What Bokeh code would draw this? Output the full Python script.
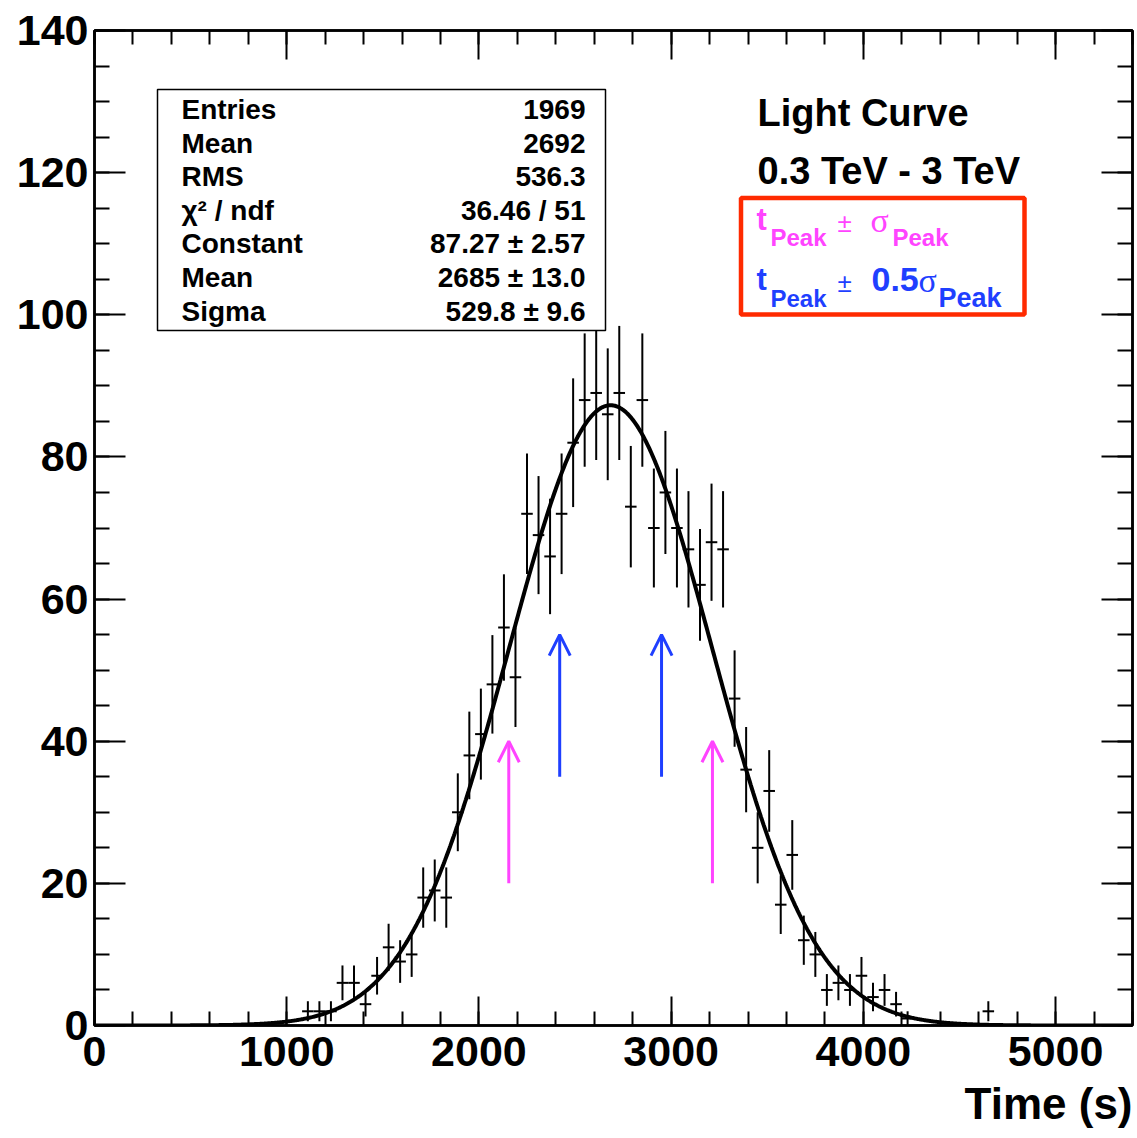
import numpy as np
from bokeh.plotting import figure
from bokeh.models import (Range1d, LinearAxis, SingleIntervalTicker, BoxAnnotation,
                          Label, Arrow, OpenHead, ColumnDataSource, Title)
from bokeh.embed import file_html
from bokeh.resources import INLINE

# ---------------- data ----------------
bin_width = 60
bin_centers = [1110, 1170, 1230, 1290, 1350, 1410, 1470, 1530, 1590, 1650,
               1710, 1770, 1830, 1890, 1950, 2010, 2070, 2130, 2190, 2250,
               2310, 2370, 2430, 2490, 2550, 2610, 2670, 2730, 2790, 2850,
               2910, 2970, 3030, 3090, 3150, 3210, 3270, 3330, 3390, 3450,
               3510, 3570, 3630, 3690, 3750, 3810, 3870, 3930, 3990, 4050,
               4110, 4170, 4230, 4650]
counts = [2, 2, 2, 6, 6, 3, 7, 11, 9, 10,
          18, 19, 18, 30, 38, 41, 48, 56, 49, 72,
          69, 66, 72, 82, 88, 89, 86, 89, 73, 88,
          70, 75, 70, 67, 62, 68, 67, 46, 36, 25,
          33, 17, 24, 12, 10, 5, 6, 5, 7, 4,
          5, 3, 1, 2]

fit_constant = 87.27
fit_mean = 2685.0
fit_sigma = 529.8

stat_names = ["Entries", "Mean", "RMS", "\u03c7\u00b2 / ndf", "Constant", "Mean", "Sigma"]
stat_values = ["1969", "2692", "536.3", "36.46 / 51", "87.27 \u00b1 2.57",
               "2685 \u00b1 13.0", "529.8 \u00b1 9.6"]

title_lines = ["Light Curve", "0.3 TeV - 3 TeV"]
x_title = "Time (s)"
x_tick_interval = 1000
y_tick_interval = 20
x_max = 5400
y_max = 140

# ---------------- helpers (reference pixel -> data) ----------------
FL, FR, FT, FB = 94, 1132, 30, 1025   # frame edges in pixels

def dx(px):
    return (px - FL) * x_max / (FR - FL)

def dy(py):
    return (FB - py) * y_max / (FB - FT)

def by(baseline_px, size):
    # Bokeh places 'alphabetic' label baseline ~0.32 em lower than requested
    return dy(baseline_px - 0.32 * size)

FONT = "Liberation Sans"
MAGENTA = "#ff44ff"
BLUE = "#1f3fff"

W, H = 1137, 1138
p = figure(width=W, height=H, x_range=Range1d(0, x_max), y_range=Range1d(0, y_max),
           output_backend="svg", toolbar_location=None,
           x_axis_type=None, y_axis_type=None,
           min_border_left=FL, min_border_right=W - FR, min_border_top=FT,
           min_border_bottom=H - FB)
p.outline_line_color = "black"
p.outline_line_width = 2.5
p.background_fill_color = "white"
p.border_fill_color = "white"

def make_axis(interval, minor, tick_in, minor_in, show_labels, standoff=6):
    ax = LinearAxis(ticker=SingleIntervalTicker(interval=interval, num_minor_ticks=minor))
    ax.major_tick_in = tick_in
    ax.major_tick_out = 0
    ax.minor_tick_in = minor_in
    ax.minor_tick_out = 0
    ax.major_tick_line_width = 2
    ax.minor_tick_line_width = 2
    ax.major_tick_line_color = "black"
    ax.minor_tick_line_color = "black"
    ax.axis_line_width = 2.5
    ax.axis_line_color = "black"
    ax.major_label_text_font = FONT
    ax.major_label_text_font_style = "bold"
    if show_labels:
        ax.major_label_text_font_size = "43px"
        ax.major_label_text_color = "black"
        ax.major_label_standoff = standoff
    else:
        ax.major_label_text_font_size = "1px"
        ax.major_label_text_color = None
        ax.major_label_standoff = 0
    return ax

p.add_layout(make_axis(x_tick_interval, 5, 29, 14, True, 11), "below")
p.add_layout(make_axis(x_tick_interval, 5, 29, 14, False), "above")
p.add_layout(make_axis(y_tick_interval, 4, 31, 15, True, 6), "left")
p.add_layout(make_axis(y_tick_interval, 4, 31, 15, False), "right")

p.add_layout(Title(text=x_title, align="right", text_font=FONT, text_font_style="bold",
                   text_font_size="44px", text_color="black", standoff=16, offset=0), "below")

# ---------------- histogram with errors ----------------
c = np.array(counts, dtype=float)
xc = np.array(bin_centers, dtype=float)
err = np.sqrt(c)
src = ColumnDataSource(dict(x=xc, y=c, lo=c - err, hi=c + err,
                            xl=xc - bin_width / 2, xr=xc + bin_width / 2))
p.segment(x0="x", y0="lo", x1="x", y1="hi", source=src, line_color="black", line_width=2)
p.segment(x0="xl", y0="y", x1="xr", y1="y", source=src, line_color="black", line_width=2)

# ---------------- gaussian fit ----------------
xf = np.linspace(0, x_max, 1200)
yf = fit_constant * np.exp(-0.5 * ((xf - fit_mean) / fit_sigma) ** 2)
p.line(xf, yf, line_color="black", line_width=4)

# ---------------- arrows ----------------
for xa, col, y0, y1 in [(fit_mean - fit_sigma, MAGENTA, 20, 40),
                        (fit_mean + fit_sigma, MAGENTA, 20, 40),
                        (fit_mean - 0.5 * fit_sigma, BLUE, 35, 55),
                        (fit_mean + 0.5 * fit_sigma, BLUE, 35, 55)]:
    p.add_layout(Arrow(end=OpenHead(size=21, line_color=col, line_width=3),
                       x_start=xa, y_start=y0, x_end=xa, y_end=y1,
                       line_color=col, line_width=3))

# ---------------- stats box ----------------
p.add_layout(BoxAnnotation(left=dx(157), right=dx(605), top=dy(89), bottom=dy(330),
                           fill_color="white", fill_alpha=1.0,
                           line_color="black", line_width=1.5, line_alpha=1.0))
for i, (nm, vl) in enumerate(zip(stat_names, stat_values)):
    yb = by(118 + 33.6 * i, 28)
    p.add_layout(Label(x=dx(181), y=yb, text=nm, text_align="left", text_baseline="alphabetic",
                       text_color="black", text_font=FONT, text_font_style="bold",
                       text_font_size="28px"))
    p.add_layout(Label(x=dx(585), y=yb, text=vl, text_align="right", text_baseline="alphabetic",
                       text_color="black", text_font=FONT, text_font_style="bold",
                       text_font_size="28px"))

# ---------------- title text ----------------
p.add_layout(Label(x=dx(757), y=by(125, 38), text=title_lines[0], text_baseline="alphabetic",
                   text_color="black", text_font=FONT, text_font_style="bold",
                   text_font_size="38px"))
p.add_layout(Label(x=dx(757), y=by(183, 38), text=title_lines[1], text_baseline="alphabetic",
                   text_color="black", text_font=FONT, text_font_style="bold",
                   text_font_size="38px"))

# ---------------- legend box ----------------
p.add_layout(BoxAnnotation(left=dx(740.5), right=dx(1024), top=dy(197.5), bottom=dy(314),
                           fill_alpha=0, line_color="#ff2a00", line_width=4.5, line_alpha=1.0))

def piece(px, py, txt, col, size, style="bold", font=FONT):
    p.add_layout(Label(x=dx(px), y=by(py, size), text=txt, text_align="left",
                       text_baseline="alphabetic", text_color=col, text_font=font,
                       text_font_style=style, text_font_size=f"{size}px"))

# line 1
piece(756, 229, "t", MAGENTA, 31)
piece(770, 245, "Peak", MAGENTA, 24)
piece(837, 231, "\u00b1", MAGENTA, 26, "normal")
piece(870, 231, "\u03c3", MAGENTA, 34, "normal", "Liberation Serif")
piece(892, 245, "Peak", MAGENTA, 24)
# line 2
piece(756, 289, "t", BLUE, 31)
piece(770, 306, "Peak", BLUE, 24)
piece(837, 291, "\u00b1", BLUE, 26, "normal")
piece(871, 290, "0.5", BLUE, 34)
piece(918, 291, "\u03c3", BLUE, 34, "normal", "Liberation Serif")
piece(938, 306, "Peak", BLUE, 27)

open("out.html", "w").write(file_html(p, INLINE))
